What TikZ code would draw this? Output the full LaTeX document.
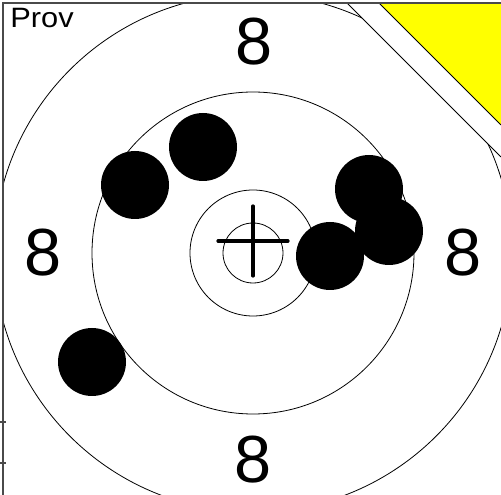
\documentclass[tikz,border=0pt]{standalone}
\usepackage{fontspec}
\setsansfont{Liberation Sans}
\usetikzlibrary{positioning}
\definecolor{cyellow}{HTML}{FFFF00}
\definecolor{cframe}{HTML}{4A4A4A}
\tikzset{
  every picture/.style={font=\sffamily, line width=0.6pt},
  ring/.style={draw=black, line width=0.6pt},
  shot/.style={circle, fill=black, minimum size=51pt, inner sep=0pt},
  score/.style={font=\sffamily\fontsize{50}{50}\selectfont, inner sep=0pt},
  cross/.style={line width=2.4pt, line cap=round},
  frame/.style={draw=cframe, line width=1.4pt},
}

\begin{document}
\begin{tikzpicture}[x=0.75pt, y=-0.75pt]
  \useasboundingbox (0,0) rectangle (501,495);
  % corner flag
  \fill[cyellow] (379,3) -- (501,3) -- (501,125) -- cycle;
  \draw (379,3) -- (501,125);
  % rings, cut off at the corner
  \coordinate (c) at (253,253);
  \begin{scope}
    \clip (3,3) -- (347,3) -- (501,157) -- (501,495) -- (3,495) -- cycle;
    \draw[ring] (c) circle[radius=259];
    \draw[ring] (c) circle[radius=161];
    \draw[ring] (c) circle[radius=63];
    \draw[ring] (c) circle[radius=30];
  \end{scope}
  \draw (347,3) -- (501,157);
  % shots
  \foreach \x/\y [count=\i] in {203/147, 135/185, 369/189, 389/231, 330/256, 92/362}
    \node[shot] (shot\i) at (\x,\y) {};
  % aiming mark
  \coordinate (aim) at (253,241);
  \draw[cross] (aim) +(-35,0) -- +(35,0);
  \draw[cross] (aim) +(0,-35) -- +(0,35);
  % ring values
  \node[score] (top) at (254,42) {8};
  \node[score] (left) at (43,253) {8};
  \node[score] (right) at (463,253) {8};
  \node[score] (bottom) at (253,460) {8};
  \node[font=\sffamily\fontsize{21}{21}\selectfont, xscale=1.1, anchor=base west, inner sep=0pt] (prov) at (10,28) {Prov};
  % frame
  \draw[frame] (3,495) -- (3,3) -- (501,3);
  \draw[frame, line width=0.8pt] (0,422) -- (6,422);
  \draw[frame, line width=0.8pt] (0,463) -- (6,463);
\end{tikzpicture}
\end{document}
